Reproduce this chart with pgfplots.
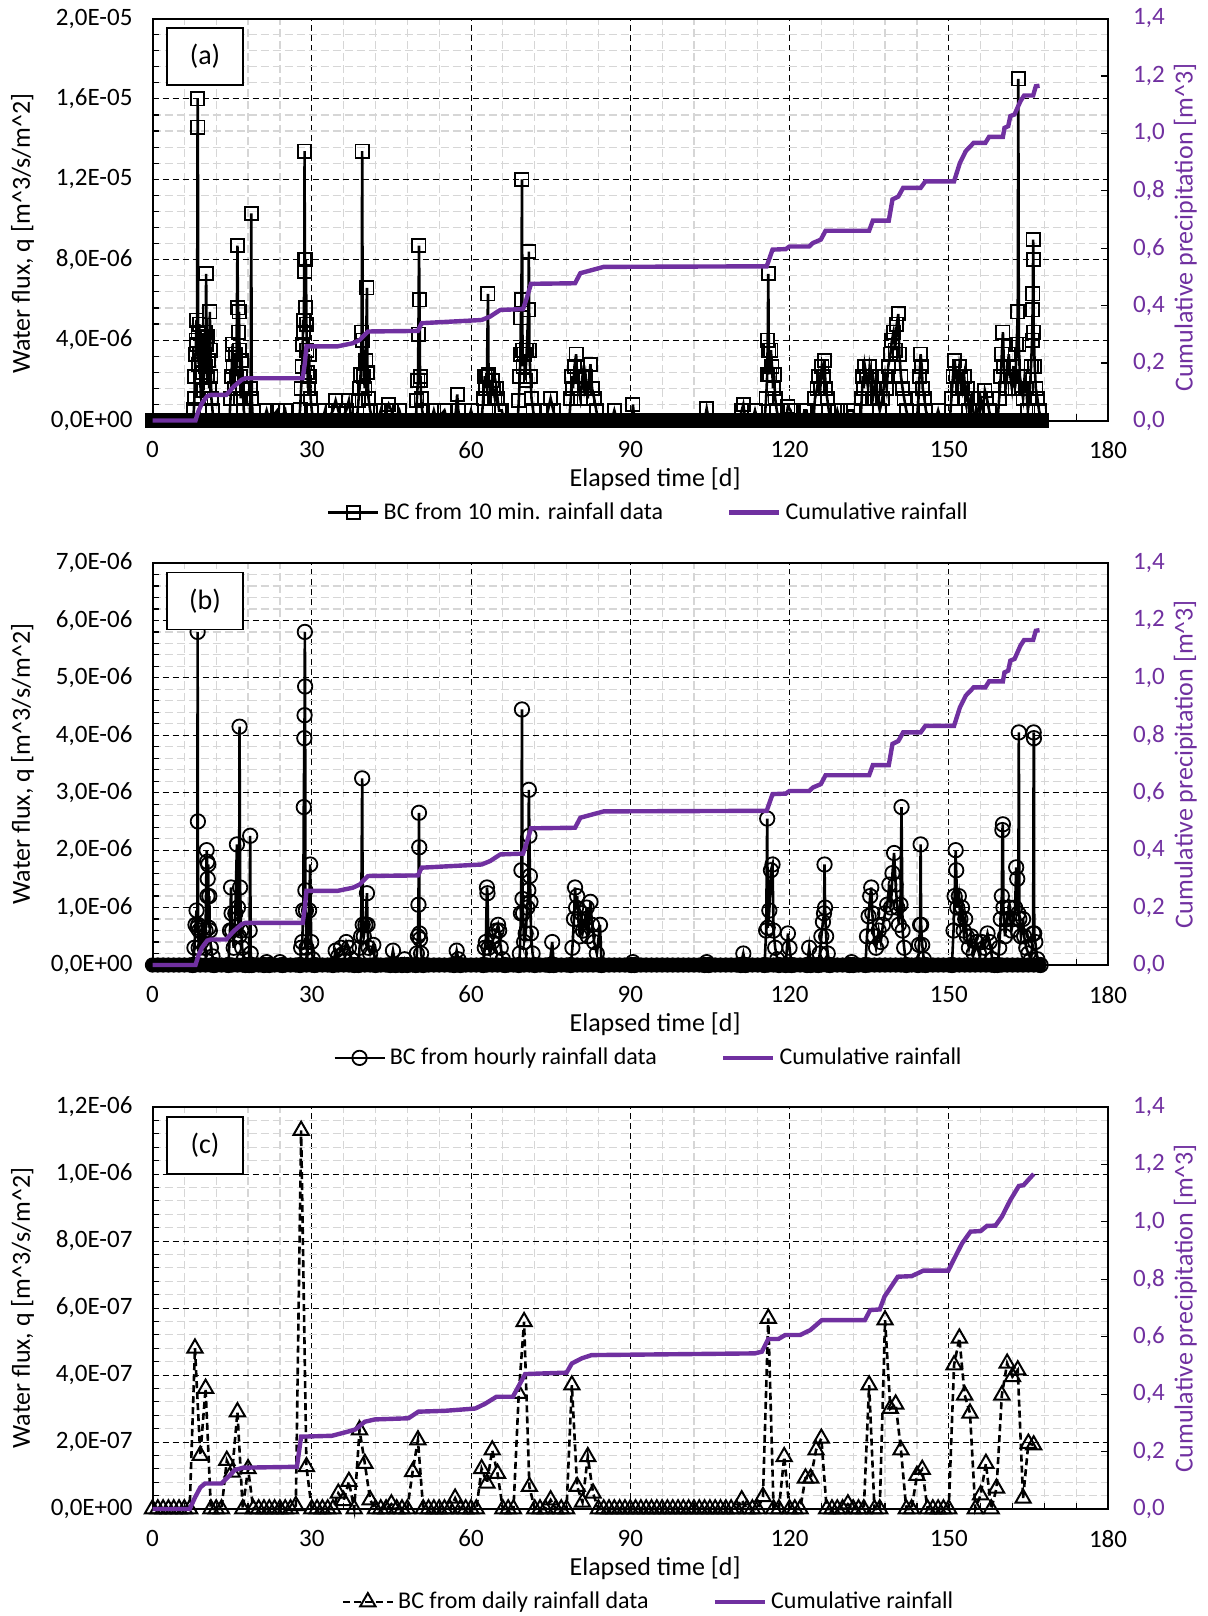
\documentclass[border=0pt]{standalone}
\usepackage{fontspec}
\setmainfont{Carlito}
\usepackage{pgfplots}
\pgfplotsset{compat=1.18}
\definecolor{cumpurple}{RGB}{112,48,160}
\tikzset{panelbox/.style={draw, fill=white, line width=0.8pt, minimum width=38pt, minimum height=28.5pt, font=\fontsize{14}{17}\selectfont}}

\pgfplotsset{
  basestyle/.style={
    width=477.75pt, height=201pt, scale only axis,
    xmin=0, xmax=180, clip=false,
    /pgf/number format/assume math mode=true,
    ticklabel style={font=\fontsize{12.5}{15}\selectfont},
    label style={font=\fontsize{13}{16}\selectfont},
    tick align=inside,
  },
  leftstyle/.style={basestyle,
    axis line style={line width=1pt},
    xtick={0,30,60,90,120,150,180}, xticklabels={0,30,60,90,120,150,180},
    minor x tick num=4, minor y tick num=4,
    grid=both,
    major grid style={black, line width=0.5pt, dash pattern=on 3pt off 2pt},
    minor grid style={black!16, line width=0.6pt, dash pattern=on 4pt off 2pt},
    xtick pos=left, ytick pos=left,
    major tick length=0pt, minor tick length=3.2pt,
    tick style={black, line width=0.6pt},
    xlabel={Elapsed time [d]},
    ylabel={Water flux, q [m\textasciicircum 3/s/m\textasciicircum 2]},
    xlabel style={at={(axis description cs:0.526,-0.146)}, anchor=center},
    ylabel style={at={(axis description cs:-0.136,0.5)}, anchor=center},
    xticklabel style={yshift=-7pt},
    yticklabel shift=6.5pt,
  },
  rightstyle/.style={basestyle,
    axis x line=none, axis y line*=right,
    axis line style={line width=1pt},
    ymin=0, ymax=1.4,
    ytick={0,0.2,0.4,0.6,0.8,1.0,1.2,1.4},
    yticklabels={{0,0},{0,2},{0,4},{0,6},{0,8},{1,0},{1,2},{1,4}},
    major tick length=3.5pt, tick style={black, line width=0.6pt},
    yticklabel style={text=cumpurple, xshift=9pt},
    ylabel={Cumulative precipitation [m\textasciicircum 3]},
    ylabel style={text=cumpurple, at={(axis description cs:1.081,0.5)}, anchor=center},
    legend image code/.code={\draw[mark repeat=2,mark phase=2] plot coordinates {(0cm,0cm) (0.44cm,0cm) (0.88cm,0cm)};},
    legend style={at={(0.52,-0.229)}, anchor=center, draw=none, fill=none,
      legend columns=2, font=\fontsize{12}{14}\selectfont,
      /tikz/every even column/.append style={column sep=30pt}},
    legend cell align=left,
  },
}

\begin{document}
\begin{tikzpicture}
\useasboundingbox (0,0) rectangle (603.5pt,-808pt);

% ================= PANEL (a) =================
\begin{axis}[leftstyle, at={(76.25pt,-210.25pt)}, anchor=south west,
  ymin=0, ymax=20, ytick={0,4,8,12,16,20},
  yticklabels={{0,0E+00},{4,0E-06},{8,0E-06},{1,2E-05},{1,6E-05},{2,0E-05}},
  ylabel style={at={(axis description cs:-0.136,0.465)}}]
\addplot[only marks, mark=square*, mark size=3.6pt, black] coordinates {
(0,0)(1,0)(2,0)(3,0)(4,0)(5,0)(6,0)(7,0)(8,0)(9,0)(10,0)(11,0)(12,0)(13,0)(14,0)(15,0)(16,0)(17,0)(18,0)(19,0)
(20,0)(21,0)(22,0)(23,0)(24,0)(25,0)(26,0)(27,0)(28,0)(29,0)(30,0)(31,0)(32,0)(33,0)(34,0)(35,0)(36,0)(37,0)(38,0)(39,0)
(40,0)(41,0)(42,0)(43,0)(44,0)(45,0)(46,0)(47,0)(48,0)(49,0)(50,0)(51,0)(52,0)(53,0)(54,0)(55,0)(56,0)(57,0)(58,0)(59,0)
(60,0)(61,0)(62,0)(63,0)(64,0)(65,0)(66,0)(67,0)(68,0)(69,0)(70,0)(71,0)(72,0)(73,0)(74,0)(75,0)(76,0)(77,0)(78,0)(79,0)
(80,0)(81,0)(82,0)(83,0)(84,0)(85,0)(86,0)(87,0)(88,0)(89,0)(90,0)(91,0)(92,0)(93,0)(94,0)(95,0)(96,0)(97,0)(98,0)(99,0)
(100,0)(101,0)(102,0)(103,0)(104,0)(105,0)(106,0)(107,0)(108,0)(109,0)(110,0)(111,0)(112,0)(113,0)(114,0)(115,0)(116,0)(117,0)(118,0)(119,0)
(120,0)(121,0)(122,0)(123,0)(124,0)(125,0)(126,0)(127,0)(128,0)(129,0)(130,0)(131,0)(132,0)(133,0)(134,0)(135,0)(136,0)(137,0)(138,0)(139,0)
(140,0)(141,0)(142,0)(143,0)(144,0)(145,0)(146,0)(147,0)(148,0)(149,0)(150,0)(151,0)(152,0)(153,0)(154,0)(155,0)(156,0)(157,0)(158,0)(159,0)
(160,0)(161,0)(162,0)(163,0)(164,0)(165,0)(166,0)(167,0)};
\addplot[black, line width=1.3pt, mark=square, mark size=3.3pt, mark options={line width=0.9pt}] coordinates {
(7.6,0)(7.8,0.55)(7.9,1.1)(8.0,2.2)(8.1,3.3)(8.2,4.0)(8.3,5.0)(8.4,3.8)(8.5,16.0)(8.55,14.6)(8.6,4.4)(8.7,2.8)(8.8,4.8)(8.9,3.3)(9.0,2.2)(9.1,1.1)(9.2,3.0)(9.4,4.2)(9.5,2.4)(9.6,1.5)(9.8,3.3)(9.9,4.4)(10.0,2.7)(10.1,7.3)(10.2,3.8)(10.3,2.2)(10.4,4.2)(10.5,3.0)(10.7,1.6)(10.8,5.4)(10.9,3.5)(11.0,2.2)(11.1,1.1)(11.3,0.5)(11.5,0)
(14.5,0)(14.7,1.1)(14.9,2.2)(15.0,3.3)(15.1,3.8)(15.2,2.7)(15.4,1.6)(15.6,3.3)(15.8,2.2)(16.0,8.7)(16.1,5.6)(16.2,4.4)(16.3,5.4)(16.4,3.5)(16.5,2.2)(16.6,1.1)(16.8,3.0)(17.0,1.6)(17.2,0.5)(17.5,0)(18.3,0)(18.5,1.6)(18.6,10.3)(18.7,1.1)(18.9,0)
(21,0)(21.5,0.5)(22,0)(23.5,0.5)(24,0)(25,0.5)(25.3,0)
(27.6,0)(27.8,0.55)(28.0,1.6)(28.2,2.7)(28.3,3.8)(28.4,5.0)(28.5,4.4)(28.6,8.0)(28.65,13.4)(28.7,7.4)(28.8,5.6)(28.9,8.0)(29.0,4.8)(29.1,3.5)(29.2,2.4)(29.3,1.6)(29.5,3.3)(29.6,2.2)(29.8,1.1)(30.0,0.5)(30.3,0)
(32,0)(32.5,0.5)(33,0)(34,0.5)(34.5,1.0)(35,0.5)(35.5,0)(36.5,0.5)(37,1.0)(37.5,0)
(38.5,0)(38.8,1.0)(39.0,1.6)(39.2,2.3)(39.4,4.4)(39.5,13.4)(39.6,4.0)(39.8,2.2)(40.0,1.6)(40.2,3.0)(40.4,6.6)(40.5,2.4)(40.7,1.1)(41.0,0.5)(41.5,0)
(42.5,0)(43,0.5)(43.5,0)(44.5,0.8)(45,0.5)(45.5,0)(46.5,0.5)(47,0)
(49.6,0)(49.8,1.0)(50.0,2.0)(50.1,4.3)(50.2,8.7)(50.3,6.0)(50.4,2.0)(50.5,2.2)(50.6,1.1)(50.8,0.5)(51.2,0)
(52.5,0)(53,0.5)(53.5,0)(55,0.5)(55.5,0)(57,0)(57.4,1.3)(57.6,0.5)(58,0)(59.5,0)(60,0.5)(60.5,0)
(62.0,0)(62.3,1.1)(62.6,2.2)(62.8,1.6)(63.0,2.2)(63.2,6.3)(63.3,2.3)(63.5,1.6)(63.7,1.1)(64.0,2.0)(64.2,1.6)(64.5,1.1)(64.8,1.6)(65.0,1.1)(65.3,0.5)(65.8,0.5)(66.2,0)
(68.8,0)(69.0,1.0)(69.2,2.2)(69.3,3.3)(69.4,5.1)(69.5,6.0)(69.6,12.0)(69.7,3.5)(69.8,2.7)(70.0,3.3)(70.2,2.0)(70.5,3.5)(70.8,5.5)(70.9,8.4)(71.0,3.5)(71.2,2.2)(71.4,1.1)(71.7,0.5)(72.0,0)
(74,0)(74.5,0.5)(75,1.1)(75.5,0.5)(76,0)
(78.5,0)(78.8,1.1)(79.0,2.2)(79.2,1.6)(79.5,2.7)(79.8,3.3)(80.0,2.2)(80.3,1.6)(80.6,1.1)(81.0,2.2)(81.3,1.6)(81.6,2.2)(82.0,1.1)(82.5,2.8)(82.8,1.6)(83.2,1.1)(83.6,0.5)(84.0,0)
(86.5,0)(87,0.5)(87.5,0)(90.3,0)(90.5,0.8)(90.8,0)(104,0)(104.4,0.6)(104.8,0)(110.5,0)(111,0.5)(111.3,0.8)(111.7,0)(113,0)(113.5,0.5)(114,0)
(115.3,0)(115.6,1.1)(115.8,2.3)(115.9,4.0)(116.0,7.3)(116.1,3.5)(116.3,2.3)(116.5,3.5)(116.7,2.7)(116.9,1.6)(117.1,2.3)(117.3,1.1)(117.6,0.5)(118,0)(119.3,0)(119.7,0.7)(120.2,0.5)(120.6,0)
(122.5,0)(122.8,0.5)(123.2,0.5)(123.5,0)(124.5,0)(124.8,1.1)(125.2,1.6)(125.5,2.2)(125.8,1.6)(126.1,2.7)(126.4,2.2)(126.6,3.0)(126.8,1.6)(127.1,1.1)(127.4,0.5)(127.8,0)
(128.5,0)(129,0.5)(129.5,0)(130.5,0)(131,0.5)(132,0.5)(132.5,0)
(133.4,0)(133.6,1.1)(133.8,2.2)(134.0,1.6)(134.2,2.7)(134.5,2.2)(134.8,1.6)(135.1,2.7)(135.4,2.2)(135.7,1.1)(136.0,1.6)(136.3,2.2)(136.6,1.1)(137.0,0.5)(137.5,1.1)(138.0,2.2)(138.3,1.6)(138.6,2.7)(139.0,3.3)(139.3,4.0)(139.6,4.4)(139.9,3.5)(140.2,4.8)(140.5,5.3)(140.7,3.3)(141.0,2.2)(141.3,1.6)(141.6,1.1)(142.0,0.5)(142.5,0)
(144.0,0)(144.3,1.1)(144.5,2.2)(144.7,3.3)(144.9,2.7)(145.1,1.6)(145.4,1.1)(145.7,0.5)(146.2,0)
(147.5,0)(148,0.5)(148.5,0)
(150.2,0)(150.5,1.1)(150.8,2.2)(151.1,3.0)(151.4,2.2)(151.7,1.6)(152.0,2.7)(152.3,2.2)(152.6,1.6)(152.9,2.2)(153.2,1.1)(153.5,1.6)(153.8,0.5)(154.2,1.1)(154.6,0.5)(155.0,0)(155.5,0.5)(156.0,1.1)(156.4,0.5)(156.8,1.5)(157.2,1.1)(157.6,0.5)(158.0,0)
(159.2,0)(159.5,1.1)(159.8,2.2)(160.0,3.3)(160.2,4.4)(160.4,2.7)(160.7,1.6)(161.0,2.2)(161.3,3.3)(161.6,2.2)(161.9,1.6)(162.2,2.7)(162.5,1.6)(162.8,3.8)(163.0,5.4)(163.1,17.0)(163.2,3.8)(163.4,2.2)(163.7,1.6)(164.0,1.1)(164.3,2.2)(164.6,1.6)(164.9,0.5)(165.2,1.1)(165.5,2.7)(165.7,4.0)(165.8,5.5)(165.85,6.3)(165.9,9.0)(165.95,8.0)(166.0,4.4)(166.2,2.7)(166.4,1.6)(166.7,1.1)(167.0,0.5)(167.4,0)};
\end{axis}
\begin{axis}[rightstyle, at={(76.25pt,-210.25pt)}, anchor=south west,
  ylabel style={at={(axis description cs:1.081,0.48)}}]
\addlegendimage{black, line width=1.3pt, mark=square, mark size=3.3pt, mark options={line width=0.9pt}}
\addlegendentry{BC from 10 min. rainfall data}
\addplot[cumpurple, line width=2.2pt] coordinates {
(0,0)(8.1,0)(8.6,0.03)(9.3,0.06)(10.3,0.085)(11,0.089)(13.9,0.089)(15.3,0.118)(16.8,0.142)(17.5,0.147)(28.3,0.147)(28.7,0.2)(29.0,0.258)(34.8,0.258)(37.7,0.269)(39.0,0.28)(40.6,0.31)(50.0,0.312)(50.7,0.339)(62.0,0.35)(63.6,0.362)(65.5,0.385)(69.8,0.388)(70.4,0.42)(71.3,0.476)(79.6,0.478)(80.6,0.513)(84.0,0.53)(85,0.535)(115.7,0.537)(116.8,0.595)(119.3,0.597)(120.0,0.606)(123.7,0.606)(124.4,0.618)(125.9,0.63)(126.8,0.661)(135.0,0.661)(135.7,0.696)(138.7,0.696)(139.4,0.77)(140.5,0.78)(141.4,0.81)(144.7,0.81)(145.6,0.833)(151.0,0.833)(152.1,0.897)(153.2,0.938)(154.7,0.967)(156.9,0.967)(157.6,0.988)(160.2,0.988)(160.5,1.019)(161.2,1.025)(161.6,1.06)(162.4,1.066)(163.5,1.112)(164.2,1.132)(165.9,1.132)(166.4,1.164)(167.1,1.166)};
\addlegendentry{Cumulative rainfall}
\node[panelbox] at (axis description cs:0.055,0.905) {(a)};
\end{axis}

% ================= PANEL (b) =================
\begin{axis}[leftstyle, at={(76.25pt,-482.5pt)}, anchor=south west,
  ymin=0, ymax=7, ytick={0,1,2,3,4,5,6,7},
  yticklabels={{0,0E+00},{1,0E-06},{2,0E-06},{3,0E-06},{4,0E-06},{5,0E-06},{6,0E-06},{7,0E-06}}]
\addplot[only marks, mark=*, mark size=3.6pt, black] coordinates {
(0,0)(1,0)(2,0)(3,0)(4,0)(5,0)(6,0)(7,0)(8,0)(9,0)(10,0)(11,0)(12,0)(13,0)(14,0)(15,0)(16,0)(17,0)(18,0)(19,0)
(20,0)(21,0)(22,0)(23,0)(24,0)(25,0)(26,0)(27,0)(28,0)(29,0)(30,0)(31,0)(32,0)(33,0)(34,0)(35,0)(36,0)(37,0)(38,0)(39,0)
(40,0)(41,0)(42,0)(43,0)(44,0)(45,0)(46,0)(47,0)(48,0)(49,0)(50,0)(51,0)(52,0)(53,0)(54,0)(55,0)(56,0)(57,0)(58,0)(59,0)
(60,0)(61,0)(62,0)(63,0)(64,0)(65,0)(66,0)(67,0)(68,0)(69,0)(70,0)(71,0)(72,0)(73,0)(74,0)(75,0)(76,0)(77,0)(78,0)(79,0)
(80,0)(81,0)(82,0)(83,0)(84,0)(85,0)(86,0)(87,0)(88,0)(89,0)(90,0)(91,0)(92,0)(93,0)(94,0)(95,0)(96,0)(97,0)(98,0)(99,0)
(100,0)(101,0)(102,0)(103,0)(104,0)(105,0)(106,0)(107,0)(108,0)(109,0)(110,0)(111,0)(112,0)(113,0)(114,0)(115,0)(116,0)(117,0)(118,0)(119,0)
(120,0)(121,0)(122,0)(123,0)(124,0)(125,0)(126,0)(127,0)(128,0)(129,0)(130,0)(131,0)(132,0)(133,0)(134,0)(135,0)(136,0)(137,0)(138,0)(139,0)
(140,0)(141,0)(142,0)(143,0)(144,0)(145,0)(146,0)(147,0)(148,0)(149,0)(150,0)(151,0)(152,0)(153,0)(154,0)(155,0)(156,0)(157,0)(158,0)(159,0)
(160,0)(161,0)(162,0)(163,0)(164,0)(165,0)(166,0)(167,0)};
\addplot[black, line width=1.3pt, mark=o, mark size=3.6pt, mark options={line width=0.9pt}] coordinates {
(7.6,0)(7.9,0.3)(8.1,0.7)(8.3,0.95)(8.45,0.65)(8.5,5.8)(8.55,2.5)(8.6,0.7)(8.7,0.3)(8.8,0.6)(9.0,0.2)(9.2,0.4)(9.5,0.65)(9.8,0.3)(10.0,0.6)(10.2,2.0)(10.3,1.8)(10.35,1.2)(10.4,1.5)(10.5,1.75)(10.6,0.65)(10.7,1.2)(10.8,0.6)(11.0,0.3)(11.3,0.15)(11.6,0)
(14.3,0)(14.6,0.6)(14.8,1.35)(14.9,0.9)(15.0,0.6)(15.3,0.3)(15.6,0.9)(15.9,2.1)(16.1,1.0)(16.3,0.5)(16.4,4.15)(16.5,1.35)(16.7,0.6)(16.9,0.3)(17.2,0.1)(17.5,0)(18.2,0)(18.3,0.6)(18.4,2.25)(18.5,0.2)(18.7,0)
(21,0)(21.5,0.05)(22,0)(24,0.05)(24.5,0)
(27.8,0)(28.0,0.3)(28.2,0.4)(28.4,0.95)(28.5,2.75)(28.6,3.95)(28.65,4.35)(28.7,5.8)(28.75,4.85)(28.8,1.3)(28.9,0.95)(29.0,0.3)(29.2,0.2)(29.5,0.95)(29.7,1.75)(29.9,0.4)(30.2,0.1)(30.5,0)
(34.0,0)(34.5,0.25)(35,0.15)(35.5,0.3)(36,0.2)(36.5,0.4)(37,0.3)(37.5,0.1)(38,0)
(38.8,0)(39.0,0.3)(39.3,0.5)(39.5,3.25)(39.6,0.7)(39.8,0.5)(40.1,0.7)(40.4,1.25)(40.5,0.7)(40.7,0.3)(41.0,0.2)(41.6,0.35)(42,0)
(44.8,0)(45.3,0.25)(45.8,0)(47,0)(47.5,0.1)(48,0)
(49.6,0)(49.8,0.2)(50.0,0.5)(50.1,1.05)(50.2,2.65)(50.25,2.05)(50.3,0.55)(50.4,0.45)(50.6,0.2)(51,0)
(56.8,0)(57.3,0.25)(57.6,0.1)(58,0)
(62.3,0)(62.6,0.3)(62.8,0.4)(63.0,1.35)(63.1,1.25)(63.3,0.3)(63.6,0.2)(64.0,0.4)(64.4,0.5)(64.8,0.6)(65.1,0.7)(65.3,0.6)(65.6,0.3)(66.0,0.1)(66.4,0)
(69.0,0)(69.2,0.2)(69.4,0.9)(69.5,1.65)(69.6,4.45)(69.7,1.15)(69.8,0.9)(70.0,0.4)(70.3,0.55)(70.6,1.0)(70.8,1.3)(70.9,3.05)(71.0,2.25)(71.1,1.55)(71.2,1.1)(71.3,0.55)(71.6,0.2)(72.0,0)
(74.8,0)(75.3,0.4)(75.6,0)
(78.8,0)(79.1,0.3)(79.4,0.8)(79.6,1.35)(79.8,1.0)(80.0,1.2)(80.2,0.8)(80.5,0.5)(80.8,0.9)(81.1,0.6)(81.5,0.8)(81.8,1.0)(82.0,0.5)(82.5,1.1)(82.8,0.7)(83.2,0.4)(83.7,0.2)(84.3,0.7)(84.6,0)
(90.2,0)(90.5,0.05)(90.8,0)(104,0)(104.4,0.05)(104.8,0)(110.8,0)(111.3,0.2)(111.7,0)
(115.3,0)(115.6,0.6)(115.8,2.55)(115.9,0.65)(116.2,0.95)(116.5,1.65)(116.8,1.75)(117.0,0.6)(117.3,0.3)(117.7,0.1)(118,0)(119.3,0)(119.7,0.55)(120.0,0.3)(120.4,0)
(123.3,0)(123.7,0.3)(124,0)
(125.4,0)(125.7,0.2)(126.0,0.5)(126.3,0.75)(126.5,0.9)(126.6,1.75)(126.7,1.0)(126.9,0.5)(127.2,0.2)(127.6,0)
(131.3,0)(131.7,0.05)(132,0)
(134.3,0)(134.6,0.5)(134.9,0.85)(135.2,1.2)(135.4,1.35)(135.6,0.9)(135.9,0.5)(136.3,0.3)(136.8,0.6)(137.2,0.4)(137.6,0.7)(138.0,0.9)(138.4,1.05)(138.8,1.4)(139.1,1.0)(139.4,1.6)(139.7,1.95)(140.0,1.4)(140.3,1.0)(140.6,0.7)(140.9,1.05)(141.1,2.75)(141.3,0.6)(141.6,0.3)(142.0,0)
(144.2,0)(144.4,0.35)(144.6,0.7)(144.7,2.1)(144.8,0.7)(145.0,0.35)(145.3,0.1)(145.6,0)
(150.6,0)(150.9,0.6)(151.1,1.2)(151.3,2.0)(151.4,1.65)(151.6,1.0)(151.9,1.2)(152.2,0.8)(152.5,1.0)(152.8,0.6)(153.1,0.8)(153.4,0.5)(153.8,0.3)(154.2,0.5)(154.7,0.2)(155.2,0.4)(155.7,0.2)(156.2,0.4)(156.7,0.3)(157.3,0.55)(157.7,0.4)(158.2,0.1)(158.6,0)
(159.2,0)(159.5,0.3)(159.8,0.8)(160.0,1.2)(160.1,2.35)(160.2,2.45)(160.3,1.0)(160.6,0.5)(161.0,0.8)(161.4,1.0)(161.8,0.6)(162.2,0.8)(162.5,1.0)(162.7,1.7)(162.9,1.5)(163.1,0.9)(163.2,4.05)(163.3,0.8)(163.6,0.5)(164.0,0.8)(164.2,0.5)(164.6,0.3)(165.0,0.2)(165.5,0.1)(165.9,0.55)(166.0,4.05)(166.05,3.95)(166.1,0.55)(166.3,0.4)(166.7,0.1)(167.3,0)};
\end{axis}
\begin{axis}[rightstyle, at={(76.25pt,-482.5pt)}, anchor=south west,
  legend style={at={(0.52,-0.231)}}]
\addlegendimage{black, line width=1.3pt, mark=o, mark size=3.6pt, mark options={line width=0.9pt}}
\addlegendentry{BC from hourly rainfall data}
\addplot[cumpurple, line width=2.2pt] coordinates {
(0,0)(8.1,0)(8.6,0.03)(9.3,0.06)(10.3,0.085)(11,0.089)(13.9,0.089)(15.3,0.118)(16.8,0.142)(17.5,0.147)(28.3,0.147)(28.7,0.2)(29.0,0.258)(34.8,0.258)(37.7,0.269)(39.0,0.28)(40.6,0.31)(50.0,0.312)(50.7,0.339)(62.0,0.35)(63.6,0.362)(65.5,0.385)(69.8,0.388)(70.4,0.42)(71.3,0.476)(79.6,0.478)(80.6,0.513)(84.0,0.53)(85,0.535)(115.7,0.537)(116.8,0.595)(119.3,0.597)(120.0,0.606)(123.7,0.606)(124.4,0.618)(125.9,0.63)(126.8,0.661)(135.0,0.661)(135.7,0.696)(138.7,0.696)(139.4,0.77)(140.5,0.78)(141.4,0.81)(144.7,0.81)(145.6,0.833)(151.0,0.833)(152.1,0.897)(153.2,0.938)(154.7,0.967)(156.9,0.967)(157.6,0.988)(160.2,0.988)(160.5,1.019)(161.2,1.025)(161.6,1.06)(162.4,1.066)(163.5,1.112)(164.2,1.132)(165.9,1.132)(166.4,1.164)(167.1,1.166)};
\addlegendentry{Cumulative rainfall}
\node[panelbox] at (axis description cs:0.055,0.905) {(b)};
\end{axis}

% ================= PANEL (c) =================
\begin{axis}[leftstyle, at={(76.25pt,-754.5pt)}, anchor=south west,
  ymin=0, ymax=12, ytick={0,2,4,6,8,10,12},
  yticklabels={{0,0E+00},{2,0E-07},{4,0E-07},{6,0E-07},{8,0E-07},{1,0E-06},{1,2E-06}}]
\addplot[black, line width=1.3pt, dash pattern=on 3.5pt off 2pt, mark=triangle, mark size=4.4pt, mark options={solid, line width=1pt}] coordinates {
(0,0)(1,0)(2,0)(3,0)(4,0)(5,0)(6,0)(7,0)(8,4.8)(9,1.6)(10,3.6)(11,0)(12,0)(13,0)(14,1.45)(15,1.1)(16,2.9)(17,0)(18,1.2)(19,0)
(20,0)(21,0)(22,0)(23,0)(24,0)(25,0)(26,0)(27,0.1)(28,11.3)(29,1.26)(30,0)(31,0)(32,0)(33,0)(34,0)(35,0.47)(36,0.25)(37,0.82)(38,0)(39,2.36)
(40,1.36)(41,0.27)(42,0)(43,0)(44,0)(45,0.15)(46,0)(47,0)(48,0)(49,1.11)(50,2.06)(51,0)(52,0)(53,0)(54,0)(55,0)(56,0)(57,0.32)(58,0)(59,0)
(60,0)(61,0)(62,1.2)(63,0.77)(64,1.76)(65,1.06)(66,0)(67,0)(68,0)(69,3.45)(70,5.59)(71,0.67)(72,0)(73,0)(74,0)(75,0.27)(76,0)(77,0)(78,0)(79,3.7)
(80,0.67)(81,0.2)(82,1.56)(83,0.47)(84,0)(85,0)(86,0)(87,0)(88,0)(89,0)(90,0)(91,0)(92,0)(93,0)(94,0)(95,0)(96,0)(97,0)(98,0)(99,0)
(100,0)(101,0)(102,0)(103,0)(104,0)(105,0)(106,0)(107,0)(108,0)(109,0)(110,0)(111,0.27)(112,0)(113,0)(114,0)(115,0.37)(116,5.69)(117,0)(118,0)(119,1.56)
(120,0)(121,0)(122,0)(123,0.92)(124,0.92)(125,1.76)(126,2.11)(127,0)(128,0)(129,0)(130,0)(131,0.15)(132,0)(133,0)(134,0)(135,3.7)(136,0)(137,0)(138,5.64)(139,3.0)
(140,3.13)(141,1.76)(142,0)(143,0)(144,1.0)(145,1.18)(146,0)(147,0)(148,0)(149,0)(150,0)(151,4.3)(152,5.1)(153,3.4)(154,2.86)(155,0)(156,0.42)(157,1.36)(158,0)(159,0.62)
(160,3.4)(161,4.35)(162,3.95)(163,4.15)(164,0.32)(165,1.96)(166,1.91)};
\end{axis}
\begin{axis}[rightstyle, at={(76.25pt,-754.5pt)}, anchor=south west,
  legend style={at={(0.52,-0.231)}}]
\addlegendimage{black, line width=1.3pt, dash pattern=on 3.5pt off 2pt, mark=triangle, mark size=4.4pt, mark options={solid, line width=1pt}}
\addlegendentry{BC from daily rainfall data}
\addplot[cumpurple, line width=2.2pt] coordinates {
(0,0)(7,0)(8,0.04)(9,0.075)(9.9,0.089)(13,0.089)(14.6,0.118)(15.5,0.136)(17.1,0.144)(27.2,0.147)(28,0.252)(33.8,0.255)(36.9,0.27)(38.2,0.277)(40,0.304)(41.9,0.312)(48.2,0.316)(50.1,0.339)(55.1,0.342)(60.8,0.35)(62.6,0.366)(64.8,0.391)(67.9,0.391)(70.2,0.47)(78,0.475)(79,0.507)(80.9,0.525)(82.7,0.536)(113.5,0.542)(114.8,0.548)(116,0.592)(117.9,0.592)(119.2,0.606)(122,0.606)(123.9,0.623)(126.1,0.658)(134.2,0.658)(135.2,0.693)(137,0.695)(137.9,0.74)(140.4,0.809)(143,0.811)(145.2,0.83)(149.9,0.83)(150.9,0.867)(152.5,0.925)(154.1,0.966)(156,0.968)(157.2,0.986)(158.8,0.987)(160,1.018)(161.6,1.076)(163.2,1.125)(164.1,1.128)(166,1.167)};
\addlegendentry{Cumulative rainfall}
\node[panelbox] at (axis description cs:0.055,0.905) {(c)};
\end{axis}
\end{tikzpicture}
\end{document}
